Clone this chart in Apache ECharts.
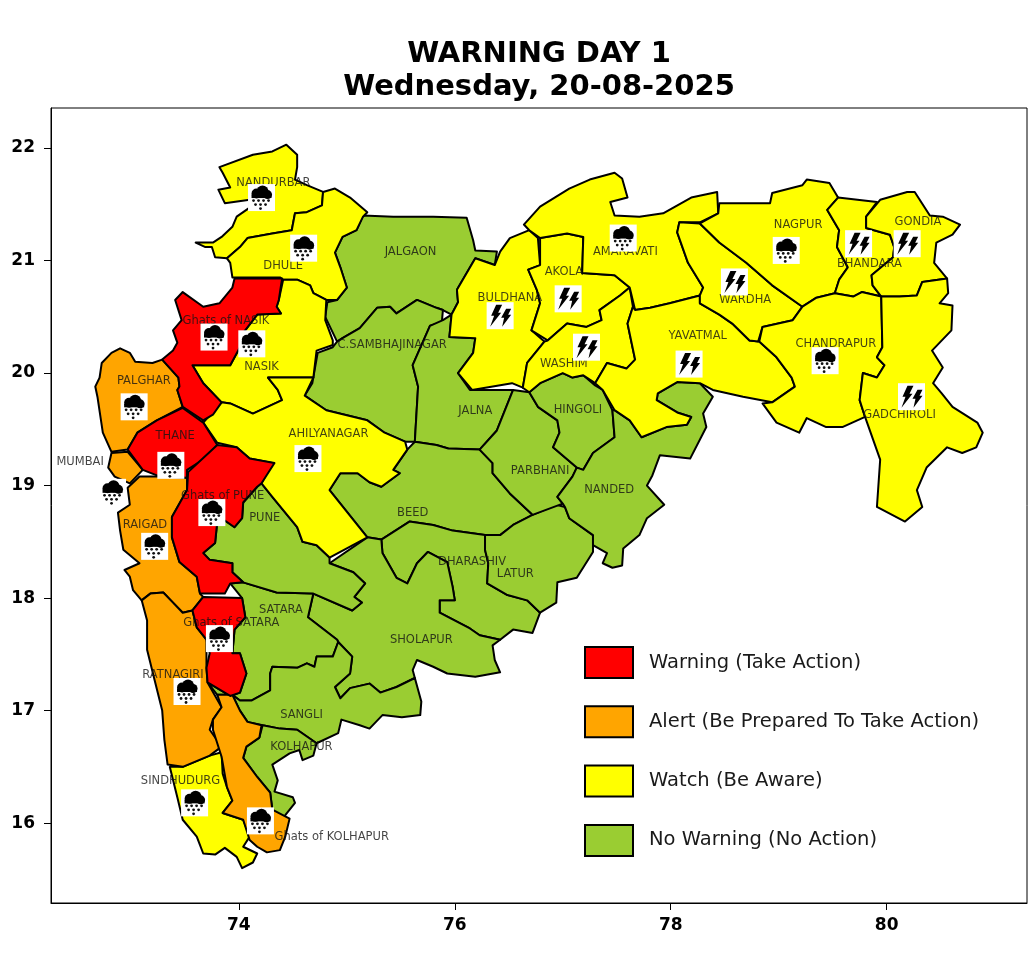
<!DOCTYPE html>
<html lang="en">
<head>
    <meta charset="UTF-8">
    <title>Warning Day 1</title>
    <script src="https://cdn.jsdelivr.net/npm/echarts@6/dist/echarts.min.js"></script>
    <style>
        html, body { margin: 0; padding: 0; background: #fff; }
    </style>
</head>
<body>
<div id="main" style="width: 1028px; height: 967px;"></div>
<script>
    // axis ticks
    var lonTicks = [74, 76, 78, 80];
    var latTicks = [16, 17, 18, 19, 20, 21, 22];

    var levelNames = ['Warning (Take Action)', 'Alert (Be Prepared To Take Action)', 'Watch (Be Aware)', 'No Warning (No Action)'];
    var levelColors = ['#ff0000', '#ffa500', '#ffff00', '#9acd32'];

    // district outlines, [lon, lat]
    var nandurbar = [[73.82,21.83],[74.13,21.94],[74.31,21.97],[74.44,22.03],[74.54,21.94],[74.54,21.83],[74.52,21.72],[74.63,21.67],[74.78,21.61],[74.77,21.49],[74.63,21.43],[74.52,21.42],[74.49,21.27],[74.31,21.24],[74.08,21.20],[74.01,21.12],[73.89,21.02],[73.78,21.03],[73.75,21.12],[73.69,21.12],[73.60,21.16],[73.76,21.16],[73.84,21.21],[73.94,21.30],[73.98,21.39],[74.10,21.47],[74.10,21.54],[73.87,21.51],[73.81,21.63],[73.92,21.65],[73.85,21.78]];
    var dhule = [[74.78,21.61],[74.89,21.64],[75.03,21.56],[75.19,21.43],[75.15,21.39],[75.09,21.27],[74.96,21.21],[74.89,21.07],[74.94,20.94],[75.00,20.76],[74.91,20.65],[74.81,20.65],[74.69,20.71],[74.66,20.78],[74.54,20.83],[74.41,20.83],[74.38,20.85],[73.94,20.85],[73.92,20.98],[73.89,21.02],[74.01,21.12],[74.08,21.20],[74.31,21.24],[74.49,21.27],[74.52,21.42],[74.63,21.43],[74.77,21.49]];
    var ghatsNasik = [[73.96,20.84],[74.40,20.84],[74.37,20.65],[74.35,20.59],[74.39,20.53],[74.17,20.52],[74.01,20.32],[74.01,20.23],[73.92,20.07],[73.57,20.07],[73.67,19.91],[73.84,19.74],[73.76,19.63],[73.67,19.58],[73.48,19.70],[73.43,19.85],[73.45,19.88],[73.44,19.96],[73.29,20.12],[73.39,20.20],[73.43,20.27],[73.39,20.38],[73.47,20.47],[73.41,20.65],[73.48,20.72],[73.67,20.59],[73.82,20.62],[73.94,20.76]];
    var nasik = [[74.41,20.83],[74.54,20.83],[74.66,20.78],[74.69,20.71],[74.81,20.65],[74.80,20.47],[74.87,20.29],[74.87,20.25],[74.72,20.20],[74.69,19.96],[74.31,19.96],[74.27,19.96],[74.36,19.85],[74.40,19.76],[74.13,19.64],[73.92,19.73],[73.84,19.74],[73.67,19.91],[73.57,20.07],[73.92,20.07],[74.01,20.23],[74.01,20.32],[74.17,20.52],[74.39,20.53],[74.35,20.59],[74.37,20.65]];
    var ahilyanagar = [[73.67,19.56],[73.84,19.74],[73.92,19.73],[74.13,19.64],[74.40,19.76],[74.36,19.85],[74.27,19.96],[74.31,19.96],[74.69,19.96],[74.61,19.80],[74.81,19.67],[75.19,19.58],[75.35,19.47],[75.54,19.39],[75.56,19.32],[75.43,19.14],[75.49,19.11],[75.32,18.99],[75.21,19.03],[75.10,19.11],[74.94,19.11],[74.84,18.96],[75.19,18.54],[74.84,18.36],[74.72,18.47],[74.59,18.50],[74.54,18.63],[74.31,18.90],[74.21,19.02],[74.31,19.20],[74.10,19.24],[73.98,19.34],[73.80,19.38]];
    var thane = [[73.48,19.69],[73.67,19.56],[73.80,19.36],[73.67,19.23],[73.52,19.14],[73.52,19.07],[73.27,19.08],[73.11,19.14],[72.97,19.32],[73.06,19.47],[73.24,19.58]];
    var ghatsPune = [[73.80,19.36],[73.98,19.34],[74.10,19.24],[74.33,19.20],[74.21,19.02],[74.17,18.99],[74.04,18.85],[74.03,18.71],[73.96,18.63],[73.87,18.69],[73.80,18.68],[73.78,18.49],[73.67,18.40],[73.73,18.34],[73.94,18.31],[73.94,18.23],[74.04,18.14],[73.92,18.13],[73.87,18.04],[73.64,18.04],[73.61,18.19],[73.45,18.32],[73.38,18.54],[73.38,18.72],[73.52,18.96],[73.53,19.12]];
    var ghatsSatara = [[73.67,18.01],[74.03,18.00],[74.06,17.83],[73.96,17.72],[73.94,17.51],[74.01,17.51],[74.07,17.33],[74.01,17.16],[73.92,17.13],[73.71,17.25],[73.70,17.38],[73.73,17.51],[73.70,17.63],[73.61,17.74],[73.57,17.89]];
    var palghar = [[72.90,20.22],[72.99,20.18],[73.04,20.10],[73.20,20.09],[73.29,20.12],[73.44,19.96],[73.45,19.88],[73.43,19.85],[73.48,19.70],[73.24,19.58],[73.06,19.47],[72.97,19.32],[72.82,19.30],[72.74,19.47],[72.69,19.79],[72.67,19.88],[72.71,19.96],[72.73,20.09],[72.82,20.18]];
    var mumbai = [[72.82,19.29],[72.97,19.30],[73.11,19.14],[72.99,19.02],[72.85,19.08],[72.79,19.16]];
    var raigad = [[73.08,19.08],[73.27,19.08],[73.52,19.07],[73.52,18.96],[73.38,18.72],[73.38,18.54],[73.45,18.32],[73.61,18.19],[73.64,18.04],[73.67,18.01],[73.57,17.89],[73.48,17.87],[73.39,17.96],[73.30,18.05],[73.18,18.04],[73.10,17.98],[73.02,18.07],[72.99,18.19],[72.94,18.25],[73.08,18.31],[72.93,18.43],[72.90,18.60],[72.88,18.76],[72.99,18.83],[72.97,18.98]];
    var ratnagiri = [[73.10,17.98],[73.18,18.04],[73.30,18.05],[73.39,17.96],[73.48,17.87],[73.57,17.89],[73.61,17.74],[73.70,17.63],[73.70,17.38],[73.71,17.25],[73.84,17.03],[73.76,16.92],[73.73,16.83],[73.84,16.68],[73.73,16.60],[73.48,16.50],[73.34,16.52],[73.31,16.74],[73.29,17.00],[73.22,17.27],[73.15,17.54],[73.15,17.80]];
    var ghatsKolhapur = [[73.80,17.14],[73.94,17.14],[74.01,17.00],[74.08,16.90],[74.21,16.87],[74.19,16.76],[74.07,16.68],[74.04,16.58],[74.17,16.41],[74.29,16.27],[74.31,16.12],[74.47,16.04],[74.43,15.88],[74.38,15.76],[74.26,15.74],[74.17,15.79],[74.10,15.85],[74.04,16.03],[73.85,16.09],[73.94,16.20],[73.89,16.32],[73.84,16.59],[73.76,16.83],[73.76,16.92],[73.84,17.03]];
    var sindhudurg = [[73.36,16.50],[73.48,16.50],[73.73,16.60],[73.84,16.63],[73.85,16.44],[73.89,16.32],[73.94,16.20],[73.85,16.09],[74.04,16.03],[74.10,15.88],[74.04,15.79],[74.17,15.73],[74.13,15.65],[74.03,15.60],[73.98,15.70],[73.87,15.78],[73.78,15.72],[73.67,15.73],[73.61,15.88],[73.48,16.03],[73.43,16.23]];
    var kolhapur = [[74.22,16.87],[74.38,16.84],[74.54,16.83],[74.72,16.71],[74.69,16.60],[74.59,16.56],[74.56,16.65],[74.47,16.62],[74.31,16.52],[74.36,16.38],[74.33,16.28],[74.50,16.23],[74.52,16.18],[74.43,16.07],[74.40,16.04],[74.31,16.12],[74.29,16.27],[74.17,16.41],[74.04,16.58],[74.07,16.68],[74.19,16.76]];
    var sangli = [[73.94,17.14],[74.01,17.09],[74.12,17.09],[74.29,17.18],[74.29,17.33],[74.31,17.39],[74.54,17.38],[74.63,17.42],[74.70,17.39],[74.72,17.48],[74.87,17.48],[74.92,17.61],[75.05,17.48],[75.03,17.33],[74.89,17.21],[74.94,17.11],[75.03,17.20],[75.21,17.24],[75.31,17.16],[75.46,17.21],[75.63,17.29],[75.69,17.08],[75.68,16.96],[75.51,16.94],[75.33,16.96],[75.21,16.84],[75.12,16.87],[74.95,16.92],[74.92,16.80],[74.72,16.71],[74.54,16.83],[74.38,16.84],[74.22,16.87],[74.08,16.90],[74.01,17.00]];
    var satara = [[74.04,18.14],[74.35,18.05],[74.69,18.04],[74.64,17.83],[74.91,17.63],[74.92,17.61],[74.87,17.48],[74.72,17.48],[74.70,17.39],[74.63,17.42],[74.54,17.38],[74.31,17.39],[74.29,17.33],[74.29,17.18],[74.12,17.09],[74.01,17.09],[73.94,17.14],[73.80,17.14],[73.71,17.25],[73.92,17.13],[74.01,17.16],[74.07,17.33],[74.01,17.51],[73.94,17.51],[73.96,17.72],[74.06,17.83],[74.03,18.00],[73.92,18.13]];
    var pune = [[74.17,18.99],[74.21,19.02],[74.31,18.90],[74.54,18.63],[74.59,18.50],[74.72,18.47],[74.84,18.36],[74.84,18.31],[75.06,18.23],[75.17,18.13],[75.07,18.01],[75.14,17.96],[75.05,17.89],[74.69,18.04],[74.35,18.05],[74.04,18.14],[73.94,18.23],[73.94,18.31],[73.73,18.34],[73.67,18.40],[73.78,18.49],[73.80,18.68],[73.87,18.69],[73.96,18.63],[74.03,18.71],[74.04,18.85]];
    var sholapur = [[74.84,18.31],[75.19,18.54],[75.32,18.52],[75.33,18.40],[75.46,18.18],[75.56,18.13],[75.65,18.31],[75.75,18.41],[75.93,18.32],[75.98,18.10],[76.00,17.98],[75.86,17.98],[75.86,17.87],[76.14,17.73],[76.23,17.67],[76.42,17.63],[76.35,17.58],[76.37,17.45],[76.42,17.34],[76.19,17.30],[75.93,17.33],[75.80,17.39],[75.65,17.45],[75.61,17.36],[75.63,17.29],[75.46,17.21],[75.31,17.16],[75.21,17.24],[75.03,17.20],[74.94,17.11],[74.89,17.21],[75.03,17.33],[75.05,17.48],[74.92,17.61],[74.91,17.63],[74.64,17.83],[74.69,18.04],[75.05,17.89],[75.14,17.96],[75.07,18.01],[75.17,18.13],[75.06,18.23]];
    var beed = [[74.84,18.96],[74.94,19.11],[75.10,19.11],[75.21,19.03],[75.32,18.99],[75.49,19.11],[75.43,19.14],[75.56,19.32],[75.63,19.39],[75.83,19.36],[75.94,19.33],[76.23,19.32],[76.35,19.20],[76.35,19.11],[76.51,18.93],[76.72,18.74],[76.54,18.65],[76.42,18.56],[76.28,18.56],[75.98,18.60],[75.80,18.65],[75.58,18.68],[75.32,18.52],[75.19,18.54]];
    var dharashiv = [[75.32,18.52],[75.58,18.68],[75.80,18.65],[75.98,18.60],[76.28,18.56],[76.28,18.43],[76.31,18.31],[76.30,18.13],[76.48,18.03],[76.67,17.98],[76.79,17.87],[76.72,17.69],[76.54,17.72],[76.42,17.63],[76.23,17.67],[76.14,17.73],[75.86,17.87],[75.86,17.98],[76.00,17.98],[75.98,18.10],[75.93,18.32],[75.75,18.41],[75.65,18.31],[75.56,18.13],[75.46,18.18],[75.33,18.40]];
    var latur = [[76.28,18.56],[76.42,18.56],[76.54,18.65],[76.72,18.74],[76.94,18.83],[77.02,18.81],[77.06,18.71],[77.28,18.56],[77.28,18.41],[77.13,18.18],[76.95,18.14],[76.94,17.96],[76.79,17.87],[76.67,17.98],[76.48,18.03],[76.30,18.13],[76.31,18.31],[76.28,18.43]];
    var parbhani = [[76.54,19.85],[76.69,19.83],[76.77,19.70],[76.95,19.58],[76.97,19.47],[76.91,19.34],[77.13,19.16],[77.09,19.08],[76.95,18.90],[77.00,18.84],[76.72,18.74],[76.51,18.93],[76.35,19.11],[76.35,19.20],[76.23,19.32],[76.39,19.49]];
    var hingoli = [[76.69,19.83],[76.79,19.91],[77.00,20.00],[77.09,19.96],[77.19,19.98],[77.30,19.89],[77.37,19.85],[77.46,19.67],[77.48,19.43],[77.28,19.29],[77.19,19.14],[77.13,19.16],[76.91,19.34],[76.97,19.47],[76.95,19.58],[76.77,19.70]];
    var nanded = [[77.09,19.08],[77.13,19.16],[77.19,19.14],[77.28,19.29],[77.48,19.43],[77.46,19.67],[77.48,19.67],[77.62,19.58],[77.73,19.43],[77.96,19.52],[78.15,19.54],[78.19,19.61],[78.06,19.65],[77.87,19.76],[77.88,19.82],[78.06,19.92],[78.27,19.91],[78.39,19.79],[78.30,19.64],[78.33,19.52],[78.18,19.24],[77.90,19.27],[77.83,19.09],[77.78,19.00],[77.94,18.83],[77.78,18.71],[77.71,18.56],[77.56,18.44],[77.55,18.29],[77.46,18.27],[77.37,18.31],[77.41,18.40],[77.28,18.47],[77.28,18.56],[77.06,18.71],[77.02,18.81],[77.00,18.84],[76.95,18.90]];
    var jalna = [[75.95,20.32],[76.19,20.31],[76.17,20.18],[76.03,20.00],[76.14,19.85],[76.54,19.85],[76.39,19.49],[76.23,19.32],[75.94,19.33],[75.83,19.36],[75.63,19.39],[75.66,19.88],[75.61,20.07],[75.77,20.42],[75.89,20.47],[75.97,20.52]];
    var sambhajinagar = [[74.91,20.28],[74.96,20.31],[75.12,20.40],[75.28,20.58],[75.40,20.59],[75.46,20.53],[75.65,20.65],[75.83,20.58],[75.89,20.56],[75.88,20.45],[75.77,20.42],[75.61,20.07],[75.66,19.88],[75.63,19.39],[75.54,19.39],[75.35,19.47],[75.19,19.58],[74.81,19.67],[74.61,19.80],[74.68,19.91],[74.73,20.18],[74.87,20.23]];
    var jalgaon = [[75.15,21.40],[75.43,21.39],[75.80,21.39],[76.11,21.38],[76.17,21.18],[76.19,21.09],[76.39,21.08],[76.37,20.96],[76.19,21.02],[76.02,20.74],[76.03,20.63],[75.97,20.52],[75.89,20.56],[75.83,20.58],[75.65,20.65],[75.46,20.53],[75.40,20.59],[75.28,20.58],[75.12,20.40],[74.96,20.31],[74.91,20.28],[74.80,20.50],[74.82,20.63],[74.91,20.65],[75.00,20.76],[74.94,20.94],[74.89,21.07],[74.96,21.21],[75.09,21.27]];
    var buldhana = [[76.19,21.02],[76.37,20.96],[76.42,21.08],[76.51,21.20],[76.69,21.27],[76.77,21.20],[76.79,20.96],[76.68,20.92],[76.76,20.74],[76.79,20.62],[76.71,20.38],[76.83,20.28],[76.67,20.09],[76.63,19.87],[76.53,19.91],[76.16,19.85],[76.03,20.00],[76.17,20.18],[76.19,20.31],[75.95,20.32],[75.97,20.52],[76.03,20.63],[76.02,20.74]];
    var akola = [[76.79,21.20],[77.04,21.24],[77.19,21.21],[77.18,20.89],[77.48,20.87],[77.62,20.76],[77.53,20.69],[77.34,20.56],[77.36,20.47],[77.22,20.41],[77.04,20.44],[76.86,20.29],[76.71,20.38],[76.79,20.62],[76.76,20.74],[76.68,20.92],[76.79,20.96]];
    var washim = [[76.86,20.29],[77.04,20.44],[77.22,20.41],[77.36,20.47],[77.34,20.56],[77.53,20.69],[77.62,20.76],[77.65,20.59],[77.60,20.44],[77.67,20.12],[77.59,20.04],[77.41,20.09],[77.30,19.91],[77.19,19.98],[77.09,19.96],[77.00,20.00],[76.79,19.91],[76.69,19.83],[76.63,19.87],[76.67,20.09],[76.83,20.28]];
    var amaravati = [[76.69,21.27],[76.64,21.32],[76.79,21.48],[77.06,21.64],[77.25,21.72],[77.48,21.78],[77.55,21.73],[77.60,21.56],[77.44,21.52],[77.48,21.40],[77.71,21.39],[77.93,21.42],[78.19,21.56],[78.43,21.61],[78.44,21.42],[78.27,21.34],[78.08,21.34],[78.06,21.25],[78.16,20.98],[78.30,20.76],[78.27,20.69],[77.99,20.62],[77.81,20.58],[77.67,20.56],[77.62,20.76],[77.48,20.87],[77.18,20.89],[77.19,21.21],[77.04,21.24],[76.79,21.20]];
    var yavatmal = [[77.67,20.56],[77.81,20.58],[77.99,20.62],[78.27,20.69],[78.27,20.62],[78.45,20.52],[78.57,20.44],[78.73,20.29],[78.82,20.28],[78.98,20.14],[79.12,19.96],[79.15,19.88],[78.94,19.74],[78.67,19.79],[78.39,19.85],[78.27,19.91],[78.06,19.92],[77.88,19.82],[77.87,19.76],[78.06,19.65],[78.19,19.61],[78.15,19.54],[77.96,19.52],[77.73,19.43],[77.62,19.58],[77.48,19.67],[77.37,19.85],[77.30,19.91],[77.41,20.09],[77.59,20.04],[77.67,20.12],[77.60,20.44],[77.65,20.59]];
    var wardha = [[78.08,21.34],[78.27,21.33],[78.45,21.16],[78.70,20.98],[78.94,20.78],[79.22,20.59],[79.13,20.47],[78.85,20.41],[78.81,20.28],[78.73,20.29],[78.57,20.44],[78.45,20.52],[78.27,20.62],[78.27,20.69],[78.30,20.76],[78.16,20.98],[78.06,21.25]];
    var nagpur = [[78.27,21.33],[78.44,21.42],[78.45,21.51],[78.92,21.51],[78.94,21.60],[79.22,21.67],[79.26,21.72],[79.47,21.69],[79.55,21.56],[79.45,21.45],[79.56,21.27],[79.54,21.12],[79.64,20.94],[79.56,20.83],[79.52,20.71],[79.35,20.67],[79.22,20.59],[78.94,20.78],[78.70,20.98],[78.45,21.16]];
    var bhandara = [[79.55,21.56],[79.91,21.52],[79.81,21.39],[79.81,21.29],[80.03,21.23],[80.07,21.12],[80.06,21.03],[79.86,20.87],[79.87,20.78],[79.95,20.68],[79.77,20.72],[79.69,20.68],[79.52,20.71],[79.56,20.83],[79.64,20.94],[79.54,21.12],[79.56,21.27],[79.45,21.45]];
    var gondia = [[79.94,21.54],[80.19,21.61],[80.26,21.61],[80.40,21.40],[80.52,21.39],[80.68,21.32],[80.61,21.23],[80.46,21.16],[80.44,20.98],[80.56,20.84],[80.33,20.81],[80.28,20.69],[80.12,20.68],[79.95,20.68],[79.87,20.78],[79.86,20.87],[80.06,21.03],[80.07,21.12],[80.03,21.23],[79.81,21.29],[79.81,21.39]];
    var chandrapur = [[79.22,20.59],[79.35,20.67],[79.52,20.71],[79.69,20.68],[79.77,20.72],[79.95,20.68],[79.96,20.23],[79.91,20.14],[79.98,20.07],[79.91,19.96],[79.78,20.00],[79.75,19.76],[79.80,19.61],[79.59,19.52],[79.44,19.52],[79.26,19.60],[79.19,19.47],[78.98,19.56],[78.85,19.73],[78.94,19.74],[79.15,19.88],[79.12,19.96],[78.98,20.14],[78.82,20.28],[78.85,20.41],[79.13,20.47]];
    var gadchiroli = [[79.95,20.68],[80.12,20.68],[80.28,20.69],[80.33,20.81],[80.56,20.84],[80.57,20.71],[80.49,20.62],[80.61,20.60],[80.60,20.38],[80.42,20.20],[80.52,20.05],[80.43,19.91],[80.51,19.82],[80.61,19.70],[80.84,19.56],[80.89,19.47],[80.83,19.34],[80.70,19.29],[80.56,19.34],[80.37,19.16],[80.28,18.96],[80.33,18.81],[80.17,18.68],[79.91,18.81],[79.94,19.23],[79.80,19.61],[79.75,19.76],[79.78,20.00],[79.91,19.96],[79.98,20.07],[79.91,20.14],[79.96,20.23]];

    // level index into levelNames, outline
    var districtShapes = [
        [3, jalgaon], [3, sambhajinagar], [3, jalna], [3, beed], [3, dharashiv], [3, latur], [3, parbhani],
        [3, hingoli], [3, nanded], [3, sholapur], [3, satara], [3, pune], [3, sangli], [3, kolhapur],
        [2, nandurbar], [2, dhule], [2, nasik], [2, ahilyanagar], [2, sindhudurg], [2, buldhana], [2, akola], [2, washim],
        [2, amaravati], [2, yavatmal], [2, wardha], [2, nagpur], [2, bhandara], [2, gondia], [2, chandrapur], [2, gadchiroli],
        [1, palghar], [1, mumbai], [1, raigad], [1, ratnagiri], [1, ghatsKolhapur],
        [0, ghatsNasik], [0, thane], [0, ghatsPune], [0, ghatsSatara]
    ];

    // label text, lon, lat
    var districtLabels = [
        ['NANDURBAR', 74.32, 21.69], ['DHULE', 74.41, 20.95], ['Ghats of NASIK', 73.88, 20.46], ['NASIK', 74.21, 20.05],
        ['PALGHAR', 73.12, 19.93], ['THANE', 73.41, 19.44], ['AHILYANAGAR', 74.83, 19.46], ['MUMBAI', 72.53, 19.21],
        ['Ghats of PUNE', 73.85, 18.91], ['PUNE', 74.24, 18.71], ['RAIGAD', 73.13, 18.65], ['SATARA', 74.39, 17.89],
        ['Ghats of SATARA', 73.93, 17.78], ['RATNAGIRI', 73.39, 17.32], ['SANGLI', 74.58, 16.96], ['KOLHAPUR', 74.58, 16.68],
        ['SINDHUDURG', 73.46, 16.37], ['Ghats of KOLHAPUR', 74.86, 15.88], ['JALGAON', 75.59, 21.08], ['C.SAMBHAJINAGAR', 75.42, 20.25],
        ['JALNA', 76.19, 19.66], ['BULDHANA', 76.51, 20.67], ['AKOLA', 77.01, 20.90], ['WASHIM', 77.01, 20.08],
        ['HINGOLI', 77.14, 19.67], ['PARBHANI', 76.79, 19.13], ['NANDED', 77.43, 18.96], ['BEED', 75.61, 18.76],
        ['DHARASHIV', 76.16, 18.32], ['LATUR', 76.56, 18.21], ['SHOLAPUR', 75.69, 17.63], ['AMARAVATI', 77.58, 21.08],
        ['NAGPUR', 79.18, 21.32], ['WARDHA', 78.69, 20.65], ['YAVATMAL', 78.25, 20.33], ['CHANDRAPUR', 79.53, 20.26],
        ['BHANDARA', 79.84, 20.97], ['GONDIA', 80.29, 21.34], ['GADCHIROLI', 80.12, 19.63]
    ];

    // weather symbols, lon, lat
    var rainAt = [[74.21,21.56],[74.60,21.11],[73.77,20.32],[74.12,20.26],[73.03,19.70],[73.37,19.18],[74.64,19.24],[72.83,18.94],[73.75,18.76],[73.22,18.46],[73.82,17.64],[73.52,17.17],[73.59,16.18],[74.20,16.02],[77.56,21.20],[79.07,21.09],[79.43,20.11]];
    var boltAt = [[76.42,20.51],[77.05,20.66],[77.22,20.23],[78.17,20.08],[78.59,20.81],[79.74,21.15],[80.19,21.15],[80.23,19.79]];

    function drawDistrict(params, api) {
        var shape = districtShapes[api.value(2)][1];
        var pts = shape.map(function (p) { return api.coord(p); });
        return {
            type: 'polygon',
            shape: { points: pts },
            style: { fill: api.visual('color'), stroke: '#000', lineWidth: 2, lineJoin: 'round' }
        };
    }

    function drawLabel(params, api) {
        var pos = api.coord([api.value(0), api.value(1)]);
        return {
            type: 'text',
            x: pos[0],
            y: pos[1],
            style: {
                text: districtLabels[params.dataIndex][0],
                font: '11.5px "DejaVu Sans"',
                fill: 'rgba(20,20,20,0.8)',
                align: 'center',
                verticalAlign: 'middle'
            }
        };
    }

    function rainSymbol() {
        var kids = [
            { type: 'circle', shape: { cx: -5, cy: -4, r: 5 }, style: { fill: '#000' } },
            { type: 'circle', shape: { cx: 1, cy: -6, r: 6 }, style: { fill: '#000' } },
            { type: 'circle', shape: { cx: 6, cy: -3, r: 4.5 }, style: { fill: '#000' } },
            { type: 'rect', shape: { x: -10, y: -3, width: 20, height: 3.5 }, style: { fill: '#000' } }
        ];
        var drops = [[-8, 3], [-3, 3], [2, 3], [7, 3], [-6, 7], [-1, 7], [4, 7], [-1, 11]];
        drops.forEach(function (d) {
            kids.push({ type: 'circle', shape: { cx: d[0], cy: d[1], r: 1.4 }, style: { fill: '#111' } });
        });
        return kids;
    }

    function boltSymbol() {
        var left = [[-4, -11], [2, -11], [-2, -3], [1, -3], [-10, 11], [-6, 0], [-9, 0]];
        var right = [[6, -7], [11, -7], [8, -1], [11, -1], [2, 11], [4, 2], [1, 2]];
        return [left, right].map(function (pts) {
            return { type: 'polygon', shape: { points: pts }, style: { fill: '#000' } };
        });
    }

    function drawSymbol(params, api) {
        var pos = api.coord([api.value(0), api.value(1)]);
        var kids = [{ type: 'rect', shape: { x: -13.5, y: -13.5, width: 27, height: 27 }, style: { fill: '#fff' } }];
        kids = kids.concat(api.value(2) ? boltSymbol() : rainSymbol());
        return { type: 'group', x: pos[0], y: pos[1], children: kids };
    }

    var series = [];
    [3, 2, 1, 0].forEach(function (lv) {
        var rows = [];
        districtShapes.forEach(function (d, i) {
            if (d[0] === lv) rows.push([d[1][0][0], d[1][0][1], i]);
        });
        series.push({
            type: 'custom',
            name: levelNames[lv],
            coordinateSystem: 'cartesian2d',
            renderItem: drawDistrict,
            encode: { x: 0, y: 1 },
            itemStyle: { color: levelColors[lv], borderColor: '#000', borderWidth: 1 },
            clip: true,
            silent: true,
            data: rows
        });
    });
    series.push({
        type: 'custom',
        coordinateSystem: 'cartesian2d',
        renderItem: drawLabel,
        encode: { x: 0, y: 1 },
        silent: true,
        data: districtLabels.map(function (d) { return [d[1], d[2]]; })
    });
    series.push({
        type: 'custom',
        coordinateSystem: 'cartesian2d',
        renderItem: drawSymbol,
        encode: { x: 0, y: 1 },
        silent: true,
        data: rainAt.map(function (p) { return [p[0], p[1], 0]; }).concat(boltAt.map(function (p) { return [p[0], p[1], 1]; }))
    });

    var myChart = echarts.init(document.getElementById('main'));
    myChart.setOption({
        animation: false,
        backgroundColor: '#fff',
        title: {
            text: 'WARNING DAY 1\nWednesday, 20-08-2025',
            left: 534,
            top: 33,
            textAlign: 'center',
            textStyle: { fontFamily: 'DejaVu Sans', fontSize: 29, fontWeight: 'bold', color: '#000', lineHeight: 33 }
        },
        legend: {
            orient: 'vertical',
            left: 579,
            top: 641,
            itemWidth: 48,
            itemHeight: 31,
            itemGap: 26.3,
            selectedMode: false,
            textStyle: { fontFamily: 'DejaVu Sans', fontSize: 19.5, color: '#1a1a1a', padding: [0, 0, 0, 11] },
            data: levelNames.map(function (n) { return { name: n, icon: 'rect' }; })
        },
        grid: { left: 51, right: 1, top: 108, bottom: 64, show: true, borderColor: '#000', borderWidth: 1 },
        xAxis: {
            type: 'value',
            min: 72.26,
            max: 81.3,
            splitLine: { show: false },
            axisLine: { show: true, onZero: false, lineStyle: { color: '#000' } },
            axisTick: { show: true, length: 7, customValues: lonTicks, lineStyle: { color: '#000' } },
            axisLabel: { customValues: lonTicks, color: '#000', fontFamily: 'DejaVu Sans', fontWeight: 'bold', fontSize: 17, margin: 14 }
        },
        yAxis: {
            type: 'value',
            min: 15.29,
            max: 22.356,
            splitLine: { show: false },
            axisLine: { show: true, onZero: false, lineStyle: { color: '#000' } },
            axisTick: { show: true, length: 7, customValues: latTicks, lineStyle: { color: '#000' } },
            axisLabel: { customValues: latTicks, color: '#000', fontFamily: 'DejaVu Sans', fontWeight: 'bold', fontSize: 17, margin: 16 }
        },
        series: series
    });
</script>
</body>
</html>
